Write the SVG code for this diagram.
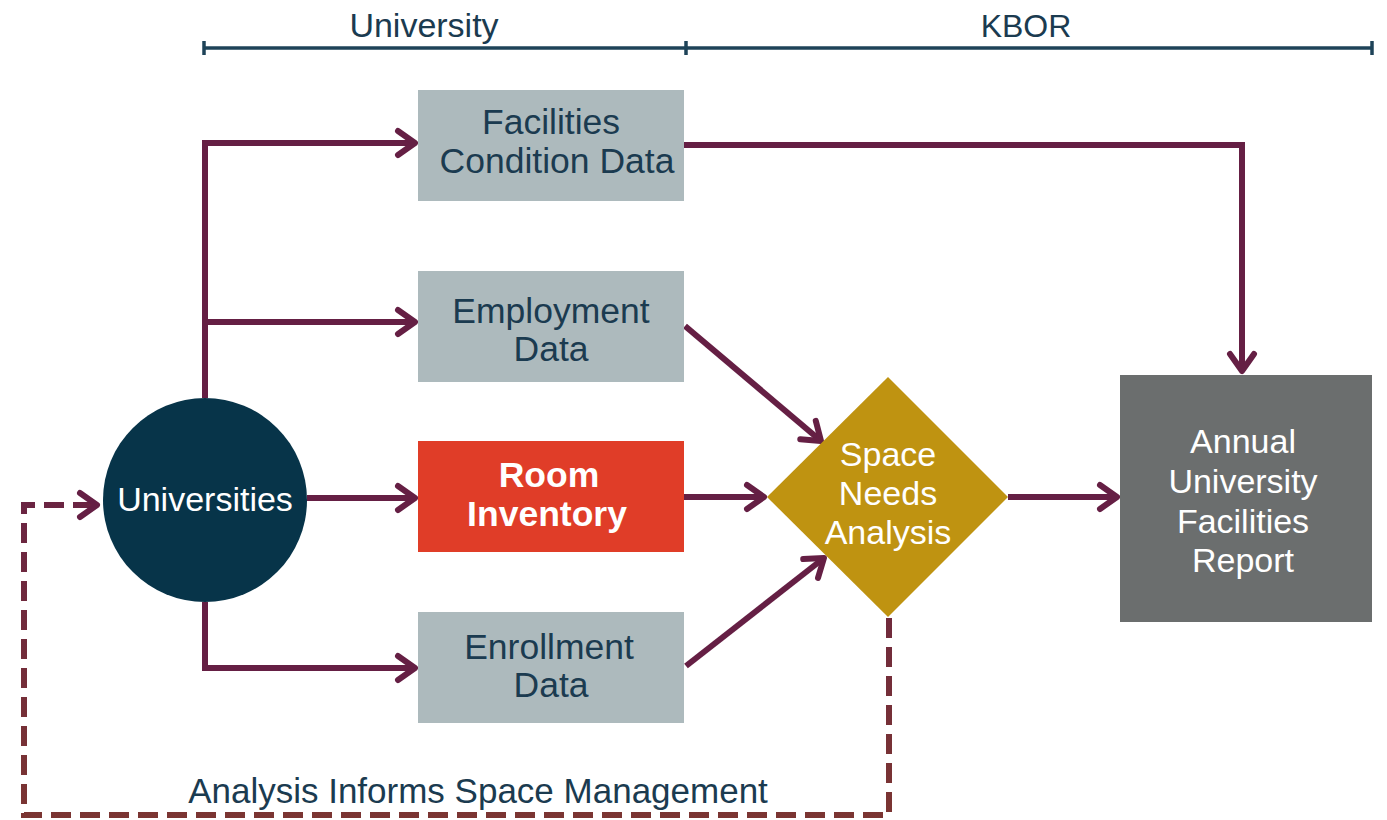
<svg xmlns="http://www.w3.org/2000/svg" width="1387" height="820" viewBox="0 0 1387 820">
  <style>
    text { font-family: "Liberation Sans", Arial, sans-serif; font-size: 34px; text-anchor: middle; }
    .dark { fill: #1b3b50; }
    .light { fill: #ffffff; }
    .bold { font-weight: bold; }
    .box-text { font-size: 35.5px; }
    .gbox { fill: #adbabd; }
    .conn { fill: none; stroke: #651f44; stroke-width: 6; stroke-linejoin: miter; }
    .dash { fill: none; stroke: url(#dashGrad); stroke-width: 6; stroke-dasharray: 20 9; }
    .scale { stroke: #1e4358; stroke-width: 3.5; fill: none; }
  </style>
  <defs>
    <marker id="arrow" markerUnits="userSpaceOnUse" markerWidth="40" markerHeight="40" refX="0" refY="0" orient="auto" overflow="visible">
      <path d="M -17 -12 L 0 0 L -17 12" fill="none" stroke="#651f44" stroke-width="6" stroke-linecap="round" stroke-linejoin="round"/>
    </marker>
    <linearGradient id="dashGrad" gradientUnits="userSpaceOnUse" x1="0" y1="500" x2="0" y2="820">
      <stop offset="0" stop-color="#6a2442"/>
      <stop offset="1" stop-color="#7b3532"/>
    </linearGradient>
  </defs>

  <g id="scale-bar">
    <line class="scale" x1="204" y1="48" x2="1372" y2="48"/>
    <line class="scale" x1="204" y1="41" x2="204" y2="55"/>
    <line class="scale" x1="686" y1="41" x2="686" y2="55"/>
    <line class="scale" x1="1372" y1="41" x2="1372" y2="55"/>
    <text class="dark" x="424" y="37">University</text>
    <text class="dark" x="1026" y="37" style="font-size:32px">KBOR</text>
  </g>

  <g id="connectors">
    <path class="conn" d="M 205 398 V 143 H 415" marker-end="url(#arrow)"/>
    <path class="conn" d="M 205 322 H 415" marker-end="url(#arrow)"/>
    <path class="conn" d="M 307 498 H 415" marker-end="url(#arrow)"/>
    <path class="conn" d="M 205 602 V 668 H 415" marker-end="url(#arrow)"/>
    <path class="conn" d="M 684 145 H 1242 V 371" marker-end="url(#arrow)"/>
    <path class="conn" d="M 685 326 L 821 441" marker-end="url(#arrow)"/>
    <path class="conn" d="M 684 497 H 764" marker-end="url(#arrow)"/>
    <path class="conn" d="M 686 666 L 824 558" marker-end="url(#arrow)"/>
    <path class="conn" d="M 1008 497 H 1117" marker-end="url(#arrow)"/>
    <path class="dash" d="M 889 618 V 815 H 24 V 505 H 97"/>
    <path d="M 80 493 L 97 505 L 80 517" fill="none" stroke="#651f44" stroke-width="6" stroke-linecap="round" stroke-linejoin="round"/>
    <text class="dark" x="478" y="803" style="font-size:35px">Analysis Informs Space Management</text>
  </g>

  <g id="universities">
    <circle cx="205" cy="500" r="102" fill="#073449"/>
    <text class="light" x="205" y="511">Universities</text>
  </g>

  <g id="facilities-condition-data">
    <rect class="gbox" x="418" y="90" width="266" height="111"/>
    <text class="dark box-text" x="551" y="134">Facilities</text>
    <text class="dark box-text" x="557" y="173">Condition Data</text>
  </g>

  <g id="employment-data">
    <rect class="gbox" x="418" y="271" width="266" height="111"/>
    <text class="dark box-text" x="551" y="323">Employment</text>
    <text class="dark box-text" x="551" y="361">Data</text>
  </g>

  <g id="room-inventory">
    <rect x="418" y="441" width="266" height="111" fill="#e03d28"/>
    <text class="light bold box-text" x="549" y="487">Room</text>
    <text class="light bold box-text" x="547" y="526">Inventory</text>
  </g>

  <g id="enrollment-data">
    <rect class="gbox" x="418" y="612" width="266" height="111"/>
    <text class="dark box-text" x="549" y="659">Enrollment</text>
    <text class="dark box-text" x="551" y="697">Data</text>
  </g>

  <g id="space-needs-analysis">
    <polygon points="888,377 1008,497 888,617 767,497" fill="#bf9311"/>
    <text class="light" x="888" y="466">Space</text>
    <text class="light" x="888" y="505">Needs</text>
    <text class="light" x="888" y="544">Analysis</text>
  </g>

  <g id="annual-report">
    <rect x="1120" y="375" width="252" height="247" fill="#6b6e6e"/>
    <text class="light" x="1243" y="453">Annual</text>
    <text class="light" x="1243" y="493">University</text>
    <text class="light" x="1243" y="533">Facilities</text>
    <text class="light" x="1243" y="572">Report</text>
  </g>
</svg>
